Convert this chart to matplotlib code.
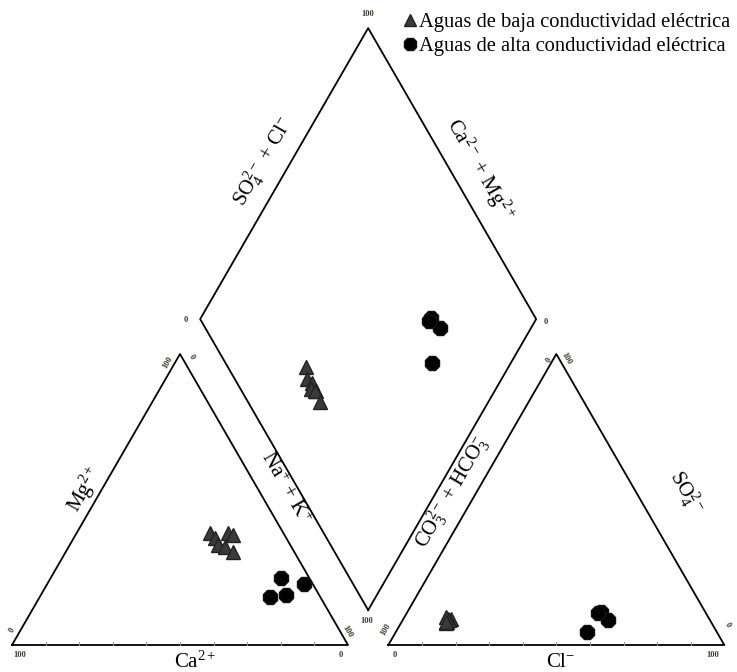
import numpy as np
import matplotlib.pyplot as plt

plt.rcParams['font.family'] = ['Liberation Serif', 'DejaVu Serif']
plt.rcParams['mathtext.fontset'] = 'custom'
plt.rcParams['mathtext.rm'] = 'Liberation Serif'
plt.rcParams['mathtext.it'] = 'Liberation Serif:italic'
plt.rcParams['mathtext.bf'] = 'Liberation Serif:bold'

# Low conductivity samples (% meq/L)
baja_mg = [38.5, 36.8, 34.4, 38.5, 37.8, 33.7, 32.0]
baja_nak = [39.7, 42.0, 44.1, 45.0, 46.9, 46.6, 49.8]
baja_so4 = [9.0, 8.0, 9.0, 7.5, 8.5, 9.5, 8.0]
baja_cl = [14.1, 13.4, 13.3, 13.4, 13.8, 12.5, 13.3]

# High conductivity samples (% meq/L)
alta_mg = [23.0, 17.2, 21.0, 16.5]
alta_nak = [68.5, 72.9, 76.4, 68.5]
alta_so4 = [11.5, 8.6, 4.5, 11.0]
alta_cl = [57.5, 61.1, 56.9, 57.0]

GAP = 12.0
H = np.sqrt(3) / 2
OFF = 100 + GAP


def cation_xy(mg, nak):
    mg, nak = np.asarray(mg), np.asarray(nak)
    return nak + mg / 2, mg * H


def anion_xy(so4, cl):
    so4, cl = np.asarray(so4), np.asarray(cl)
    return OFF + cl + so4 / 2, so4 * H


def diamond_xy(nak, so4, cl):
    nak = np.asarray(nak)
    s = np.asarray(so4) + np.asarray(cl)
    x = OFF - GAP / 2 + 0.5 * (s + nak - 100)
    y = GAP * H + H * (s + 100 - nak)
    return x, y


fig = plt.figure(figsize=(7.37, 6.72), dpi=100)
ax = fig.add_axes([0, 0, 1, 1])
ax.set_xlim(-12 / 3.36, (737 - 12) / 3.36)
ax.set_ylim(-(672 - 645) / 3.36, 645 / 3.36)
ax.axis('off')

lw = 1.3
# triangles and diamond outlines
ax.plot([0, 100, 50, 0], [0, 0, 100 * H, 0], color='black', lw=lw)
ax.plot([OFF, OFF + 100, OFF + 50, OFF], [0, 0, 100 * H, 0], color='black', lw=lw)
bx, by = OFF - GAP / 2, GAP * H
ax.plot([bx, bx + 50, bx, bx - 50, bx], [by, by + 100 * H, by + 200 * H, by + 100 * H, by],
        color='black', lw=lw)

# small ticks along the bases
for t in range(10, 100, 10):
    ax.plot([t, t], [0, 0.8], color='#999999', lw=0.8)
    ax.plot([OFF + t, OFF + t], [0, 0.8], color='#999999', lw=0.8)

# scale numbers
num = dict(fontsize=6, color='#3a3a2a', fontweight='bold', ha='center', va='center')
ax.text(2.4, -3.0, '100', **num)
ax.text(0.0, 4.5, '0', rotation=60, **num)
ax.text(97.9, -3.0, '0', **num)
ax.text(99.7, 3.9, '100', rotation=-60, **num)
ax.text(46.4, 84.2, '100', rotation=60, **num)
ax.text(53.3, 85.7, '0', rotation=-60, **num)
ax.text(114.0, -3.0, '0', **num)
ax.text(111.3, 4.5, '100', rotation=60, **num)
ax.text(208.6, -3.0, '100', **num)
ax.text(212.8, 6.0, '0', rotation=-60, **num)
ax.text(159.8, 84.8, '0', rotation=60, **num)
ax.text(164.9, 85.4, '100', rotation=-60, **num)
ax.text(106.0, 187.8, '100', **num)
ax.text(51.8, 96.7, '0', **num)
ax.text(158.9, 96.1, '0', **num)
ax.text(105.7, 7.1, '100', **num)

# axis titles
lab = dict(fontsize=15, ha='center', va='center', color='black')
ax.text(54.5, -5.0, r'Ca$^{2+}$', **lab)
ax.text(163.4, -5.3, r'Cl$^{-}$', **lab)
ax.text(21.7, 46.1, r'Mg$^{2+}$', rotation=60, **lab)
ax.text(81.3, 46.7, r'Na$^{+}$ + K$^{+}$', rotation=-60, **lab)
ax.text(131.0, 45.5, r'CO$_{3}^{2-}$ + HCO$_{3}^{-}$', rotation=60, **lab)
ax.text(200.6, 45.5, r'SO$_{4}^{2-}$', rotation=-60, **lab)
ax.text(74.7, 143.8, r'SO$_{4}^{2-}$ + Cl$^{-}$', rotation=60, **lab)
ax.text(139.3, 141.4, r'Ca$^{2-}$ + Mg$^{2+}$', rotation=-60, **lab)

tri = dict(marker='^', ms=10, color='#3a3a3a', mec='#222222', ls='none')
hsh = dict(marker='8', ms=10.5, color='black', mec='#111111', ls='none')

x, y = cation_xy(baja_mg, baja_nak)
ax.plot(x, y, **tri)
x, y = anion_xy(baja_so4, baja_cl)
ax.plot(x, y, **tri)
x, y = diamond_xy(baja_nak, baja_so4, baja_cl)
ax.plot(x, y, label='Aguas de baja conductividad eléctrica', **tri)

x, y = cation_xy(alta_mg, alta_nak)
ax.plot(x, y, **hsh)
x, y = anion_xy(alta_so4, alta_cl)
ax.plot(x, y, **hsh)
x, y = diamond_xy(alta_nak, alta_so4, alta_cl)
ax.plot(x, y, label='Aguas de alta conductividad eléctrica', **hsh)

ax.legend(loc='upper right', bbox_to_anchor=(1.008, 1.0), bbox_transform=fig.transFigure,
          frameon=False, fontsize=14.8, handlelength=0.6, handletextpad=0.15,
          labelspacing=0.25, borderaxespad=0.2, markerscale=0.9)

fig.savefig('out.png', dpi=100)
